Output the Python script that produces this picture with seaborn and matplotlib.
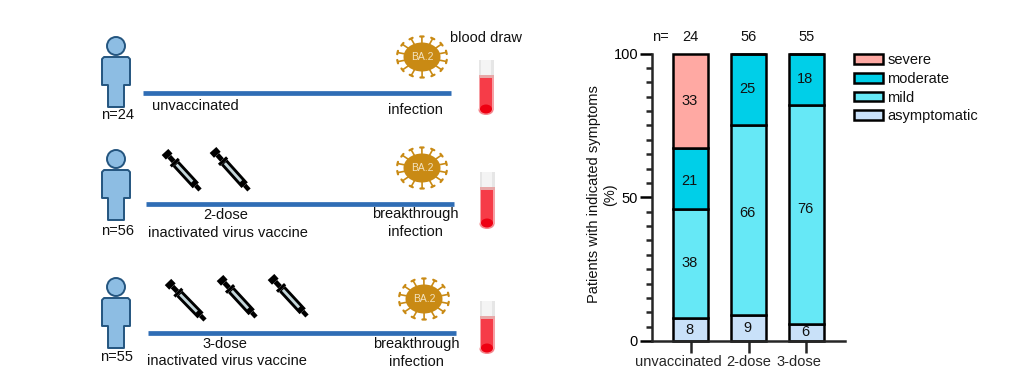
import numpy as np
import pandas as pd
import matplotlib
matplotlib.use("Agg")
import matplotlib.pyplot as plt
import seaborn as sns
from matplotlib.patches import Circle, Ellipse, Patch, Polygon, Rectangle
from matplotlib.transforms import ScaledTranslation

# data
groups = ["unvaccinated", "2-dose", "3-dose"]
n_values = [24, 56, 55]
symptoms = ["severe", "moderate", "mild", "asymptomatic"]
severe = [33, 0, 0]
moderate = [21, 25, 18]
mild = [38, 66, 76]
asymptomatic = [8, 9, 6]
colors = ["#ffa9a3", "#00cfe8", "#66e8f6", "#c9e1f9"]

W, H = 1024, 376
sns.set_theme(style="ticks")
plt.rcParams["font.family"] = ["Liberation Sans", "DejaVu Sans"]
plt.rcParams["text.color"] = "#111111"
FS = 10.5

fig = plt.figure(figsize=(W / 100, H / 100), dpi=100)

# ---- stacked bars ----
ax = fig.add_axes([652 / W, 1 - 341 / H, (845 - 652) / W, (341 - 53.5) / H])
rows = []
for i, g in enumerate(groups):
    vals = {"severe": severe[i], "moderate": moderate[i], "mild": mild[i], "asymptomatic": asymptomatic[i]}
    for s in symptoms:
        rows.append({"group": g, "symptom": s, "pct": vals[s]})
df = pd.DataFrame(rows)

sns.histplot(data=df, x="group", hue="symptom", weights="pct", multiple="stack", hue_order=symptoms,
             palette=dict(zip(symptoms, colors)), shrink=0.6, alpha=1, edgecolor="black", linewidth=1.8,
             legend=False, ax=ax)
for p in ax.patches:
    p.set_clip_on(False)

ax.set_xlim(-0.664, 2.664)
ax.set_ylim(0, 100)
ax.set_xlabel("")
ax.set_ylabel("Patients with indicated symptoms\n(%)", fontsize=FS, color="#111111")
ax.yaxis.set_label_coords(-0.181, 0.51)
ax.set_yticks([0, 50, 100])
ax.set_yticks(np.arange(0, 101, 5), minor=True)
ax.tick_params(axis="y", which="major", length=8.5, width=1.8, labelsize=10.5, pad=1.5, colors="black")
ax.tick_params(axis="y", which="minor", length=4.5, width=1.8)
ax.set_xticks(range(3))
ax.set_xticklabels(groups)
ax.tick_params(axis="x", length=8.5, width=1.8, labelsize=FS, pad=1.5)
for lab, dx in zip(ax.get_xticklabels(), [-12, 0, -8]):
    lab.set_transform(lab.get_transform() + ScaledTranslation(dx / 100, 0, fig.dpi_scale_trans))
sns.despine(ax=ax)
for side in ["left", "bottom"]:
    ax.spines[side].set_linewidth(1.8)

# numbers inside the bars, a few sit a bit above the middle in the original
nudge = {(1, 1): 2.5, (2, 1): 2, (0, 2): -1}
for i in range(3):
    bottom = 0
    for j, v in enumerate([asymptomatic[i], mild[i], moderate[i], severe[i]]):
        if v > 0:
            ax.text(i - 0.02, bottom + v / 2 + nudge.get((i, j), 0), str(v), ha="center", va="center", fontsize=FS)
        bottom += v
    ax.text(i, 105.7, str(n_values[i]), ha="center", va="center", fontsize=FS)
ax.text(-0.52, 105.7, "n=", ha="center", va="center", fontsize=FS)

handles = [Patch(facecolor=c, edgecolor="black", linewidth=1.8, label=s) for c, s in zip(colors, symptoms)]
ax.legend(handles=handles, loc="upper left", bbox_to_anchor=(854 / W, 1 - 53 / H), bbox_transform=fig.transFigure,
          frameon=False, fontsize=10.5, handlelength=2.0, handleheight=0.65, handletextpad=0.3, labelspacing=0.33,
          borderpad=0, borderaxespad=0)

# ---- schematic on the left, in pixel coordinates ----
sk = fig.add_axes([0, 0, 1, 1], zorder=-1)
sk.set_xlim(0, W)
sk.set_ylim(H, 0)
sk.axis("off")


def draw_person(cx, cy):
    edge = "#24557f"
    fill = "#8dbde3"
    sk.add_patch(Circle((cx, cy), 9, facecolor=fill, edgecolor=edge, lw=1.4))
    pts = [(-12, 11), (12, 11), (14, 13), (14, 39), (8, 39), (8, 61), (-8, 61), (-8, 39), (-14, 39), (-14, 13)]
    sk.add_patch(Polygon([(cx + a, cy + b) for a, b in pts], closed=True, facecolor=fill, edgecolor=edge,
                         lw=1.4, joinstyle="round"))


def draw_virus(cx, cy):
    c = "#c98a14"
    for ang in np.linspace(0, 2 * np.pi, 14, endpoint=False) + 0.22:
        x0, y0 = cx + 15 * np.cos(ang), cy + 12 * np.sin(ang)
        x1, y1 = cx + 25 * np.cos(ang), cy + 20.5 * np.sin(ang)
        sk.plot([x0, x1], [y0, y1], color=c, lw=1.2, solid_capstyle="butt")
        # small bar across the end of each spike
        px, py = -np.sin(ang) * 1.7, np.cos(ang) * 1.7
        sk.plot([x1 - px, x1 + px], [y1 - py, y1 + py], color=c, lw=1.6, solid_capstyle="round")
    sk.add_patch(Ellipse((cx, cy), 37, 29, facecolor=c, edgecolor="none"))
    sk.text(cx, cy, "BA.2", ha="center", va="center", fontsize=7.5, color="#f3e3bf")


def draw_tube(cx, top, bottom):
    sk.add_patch(Rectangle((cx - 7.5, top), 15, 17, facecolor="#e6e6e6", edgecolor="none"))
    sk.add_patch(Rectangle((cx - 5, top), 10, 17, facecolor="#f4f4f4", edgecolor="none"))
    sk.add_patch(Ellipse((cx, bottom - 5), 15, 10, facecolor="#f4868c", edgecolor="none"))
    sk.add_patch(Rectangle((cx - 7.5, top + 17), 15, bottom - top - 22, facecolor="#f7a0a5", edgecolor="none"))
    sk.add_patch(Rectangle((cx - 6, top + 17), 12, bottom - top - 22, facecolor="#f63c48", edgecolor="none"))
    sk.add_patch(Rectangle((cx - 7.5, top + 15), 15, 3, facecolor="#e8a8a8", edgecolor="none"))
    sk.add_patch(Ellipse((cx, bottom - 6), 12, 9, facecolor="#ee0012", edgecolor="none"))


def draw_syringe(x0, y0, x1, y1):
    parts = [(0.0, 0.12, 9.0), (0.12, 0.25, 5.0), (0.25, 0.31, 11.0), (0.31, 0.88, 8.5), (0.88, 1.0, 4.5)]
    for t0, t1, w in parts:
        sk.plot([x0 + (x1 - x0) * t0, x0 + (x1 - x0) * t1], [y0 + (y1 - y0) * t0, y0 + (y1 - y0) * t1],
                color="black", lw=w * 0.72, solid_capstyle="butt")
    sk.plot([x0 + (x1 - x0) * 0.33, x0 + (x1 - x0) * 0.78], [y0 + (y1 - y0) * 0.33, y0 + (y1 - y0) * 0.78],
            color="#c4d6da", lw=2.0, solid_capstyle="butt")


line_color = "#2f6db5"
for x0, x1, y in [(143, 451, 93), (146, 454, 204), (148, 456, 333)]:
    sk.plot([x0, x1], [y, y], color=line_color, lw=3.4, solid_capstyle="butt")

for hy in [46, 159, 287]:
    draw_person(116, hy)
for vx, vy in [(422, 57), (422, 168), (424, 299)]:
    draw_virus(vx, vy)
for tx, t0, t1 in [(486, 60, 115), (487, 172, 229), (487, 301, 354)]:
    draw_tube(tx, t0, t1)
for s in [(165, 152, 200, 190), (213, 150, 249, 190), (168, 282, 205, 320), (220, 278, 256, 317), (271, 277, 307, 316)]:
    draw_syringe(*s)

labels = [
    (118, 115, "n=24"), (195, 106, "unvaccinated"), (415, 110, "infection"), (486, 38, "blood draw"),
    (118, 231, "n=56"), (226, 215, "2-dose"), (228, 233, "inactivated virus vaccine"),
    (415, 214, "breakthrough"), (415, 232, "infection"),
    (117, 357, "n=55"), (225, 344, "3-dose"), (227, 361, "inactivated virus vaccine"),
    (416, 344, "breakthrough"), (416, 362, "infection"),
]
for x, y, t in labels:
    sk.text(x, y, t, ha="center", va="center", fontsize=FS)

fig.savefig("out.png", dpi=100)
